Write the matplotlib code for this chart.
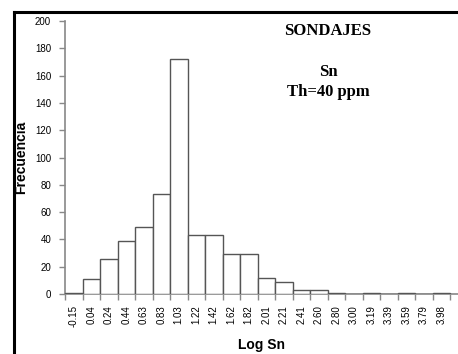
import matplotlib
matplotlib.use("Agg")
import matplotlib.pyplot as plt
from matplotlib.lines import Line2D
import numpy as np

categories = ["-0.15", "0.04", "0.24", "0.44", "0.63", "0.83", "1.03", "1.22",
              "1.42", "1.62", "1.82", "2.01", "2.21", "2.41", "2.60", "2.80",
              "3.00", "3.19", "3.39", "3.59", "3.79", "3.98"]
counts = [1, 11, 26, 39, 49, 73, 172, 43, 43, 29, 29, 12, 9, 3, 3, 1,
          0, 1, 0, 1, 0, 1]
yticks = [0, 20, 40, 60, 80, 100, 120, 140, 160, 180, 200]

W, H = 458, 354
fig = plt.figure(figsize=(W / 100, H / 100), dpi=100)
ax = fig.add_axes([65 / W, 1 - 294 / H, 1 - 65 / W, (294 - 21) / H])

x = np.arange(len(categories))
ax.bar(x, counts, width=1.0, color="white", edgecolor="#555555", linewidth=1.0, zorder=3)

ax.set_xlim(-0.5, -0.5 + (W - 65) / 17.5)
ax.set_ylim(0, 200)
ax.set_yticks(yticks)
ax.set_yticklabels([str(v) for v in yticks], fontsize=7, family="Liberation Sans")
ax.set_xticks(x)
ax.set_xticklabels(categories, rotation=90, fontsize=7, family="Liberation Sans")
ax.tick_params(axis="x", which="major", length=0, pad=8)
ax.set_xticks(np.arange(-0.5, len(categories) + 0.5, 1.0), minor=True)
ax.tick_params(axis="x", which="minor", length=4, color="#888888", width=1)
ax.tick_params(axis="y", length=4, color="#888888", width=1, pad=6)

for s in ["top", "right"]:
    ax.spines[s].set_visible(False)
for s in ["left", "bottom"]:
    ax.spines[s].set_color("#888888")
    ax.spines[s].set_linewidth(1.2)

fig.text(262 / W, 1 - 345 / H, "Log Sn", ha="center", va="center",
         fontsize=10, fontweight="bold", family="Liberation Sans")
fig.text(21.5 / W, 1 - 157 / H, "Frecuencia", ha="center", va="center", rotation=90,
         fontsize=10, fontweight="bold", family="Liberation Sans")

fig.text(328 / W, 1 - 31 / H, "SONDAJES", ha="center", va="center",
         fontsize=12, fontweight="bold", family="Liberation Serif")
fig.text(328 / W, 1 - 72 / H, "Sn", ha="center", va="center",
         fontsize=12, fontweight="bold", family="Liberation Serif")
fig.text(328 / W, 1 - 92 / H, "Th=40 ppm", ha="center", va="center",
         fontsize=12, fontweight="bold", family="Liberation Serif")

# outer chart frame (top and left edges visible)
fig.add_artist(Line2D([14 / W, 1], [1 - 11.5 / H, 1 - 11.5 / H], color="black",
                      linewidth=2.2, transform=fig.transFigure))
fig.add_artist(Line2D([14 / W, 14 / W], [1 - 11.5 / H, 0], color="black",
                      linewidth=2.2, transform=fig.transFigure))

fig.savefig("out.png", dpi=100)
